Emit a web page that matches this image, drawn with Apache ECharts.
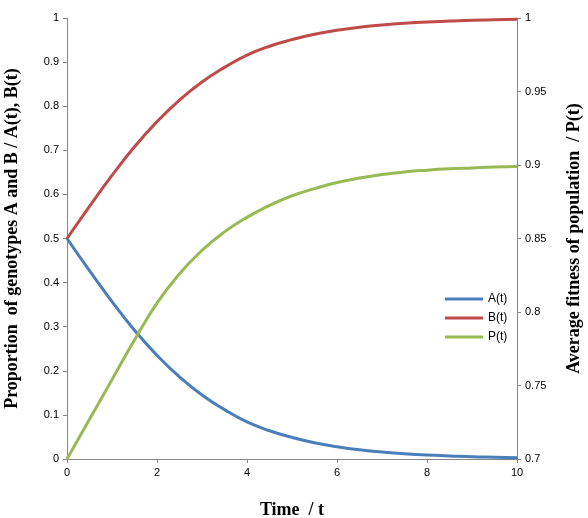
<!DOCTYPE html><html><head><meta charset="utf-8"><script src="https://cdn.jsdelivr.net/npm/echarts@6/dist/echarts.min.js"></script></head><body style="margin:0"><div id="c" style="width:588px;height:518px"></div><script>
const t=[0,0.5,1,1.5,2,2.5,3,3.5,4,4.5,5,5.5,6,6.5,7,7.5,8,8.5,9,9.5,10];
const A=[0.5,0.427,0.357,0.292,0.235,0.186,0.145,0.112,0.084,0.064,0.049,0.037,0.028,0.021,0.016,0.012,0.009,0.007,0.005,0.004,0.003];
const B=[0.5,0.573,0.643,0.708,0.765,0.814,0.855,0.888,0.916,0.936,0.951,0.963,0.972,0.979,0.984,0.988,0.991,0.993,0.995,0.996,0.997];
const P=[0.7,0.727,0.754,0.781,0.806,0.826,0.8419,0.8545,0.8644,0.8725,0.8791,0.8839,0.8881,0.8911,0.8935,0.8953,0.8965,0.8974,0.898,0.8986,0.8989];
const pairs=a=>t.map((x,i)=>[x,a[i]]);
const ax={axisLine:{lineStyle:{color:'#868686'}},axisTick:{lineStyle:{color:'#868686'},length:4,inside:false},axisLabel:{color:'#000',fontSize:11,fontFamily:'Liberation Sans'},splitLine:{show:false}};
const nm={fontFamily:'Liberation Serif',fontWeight:'bold',fontSize:18,color:'#000'};
echarts.init(document.getElementById('c')).setOption({animation:false,
grid:{left:67,right:71,top:18,bottom:59,outerBoundsMode:'none',containLabel:false},
legend:{orient:'vertical',left:440,top:288,itemWidth:38,itemHeight:3,itemGap:7,icon:'rect',textStyle:{fontSize:12,fontFamily:'Liberation Sans',color:'#000'},data:['A(t)','B(t)','P(t)']},
xAxis:{type:'value',min:0,max:10,interval:2,name:'Time  / t',nameLocation:'middle',nameGap:42,nameTextStyle:nm,...ax},
yAxis:[{type:'value',min:0,max:1,interval:0.1,name:'Proportion  of genotypes A and B / A(t), B(t)',nameLocation:'middle',nameGap:46,nameTextStyle:nm,...ax},
{type:'value',min:0.7,max:1,interval:0.05,name:'Average fitness of population  / P(t)',nameLocation:'middle',nameGap:48,nameRotate:90,nameTextStyle:nm,...ax}],
series:[{name:'A(t)',type:'line',smooth:true,showSymbol:false,data:pairs(A),lineStyle:{width:3,color:'#4a7ebb'},itemStyle:{color:'#4a7ebb'}},
{name:'B(t)',type:'line',smooth:true,showSymbol:false,data:pairs(B),lineStyle:{width:3,color:'#be4b48'},itemStyle:{color:'#be4b48'}},
{name:'P(t)',type:'line',smooth:true,showSymbol:false,yAxisIndex:1,data:pairs(P),lineStyle:{width:3,color:'#98b954'},itemStyle:{color:'#98b954'}}]});
</script></body></html>
